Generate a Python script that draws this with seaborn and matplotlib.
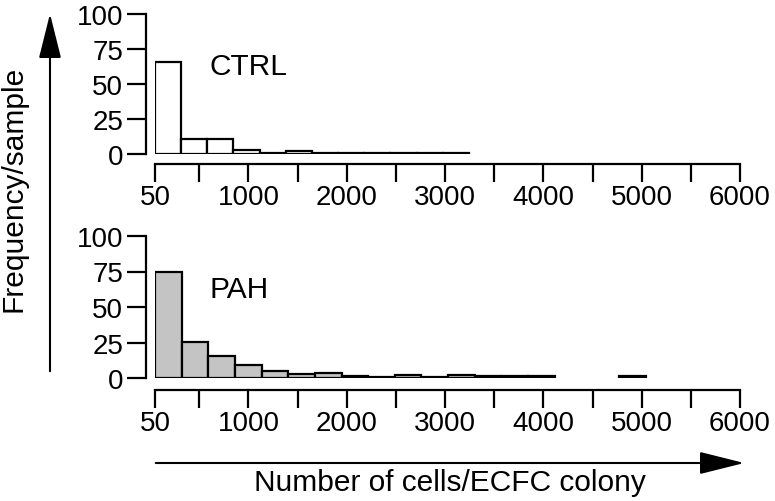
import numpy as np
import pandas as pd
import matplotlib
matplotlib.use('Agg')
import matplotlib.pyplot as plt
import seaborn as sns

## data (frequency per sample in each colony-size bin)
ctrl_bin_width = 266
ctrl_freq = [66, 10.5, 11, 3, 1, 2.5, 0.6, 0.6, 0.6, 0.6, 0.6, 0.6]

pah_bin_width = 271
pah_freq = [74.5, 25.5, 15.5, 9.5, 5, 3, 3.3, 1.2, 0.6, 1.8, 0.6, 1.8, 1.6, 1.6, 1.6]
pah_outlier_edges = [4770, 5045]
pah_outlier_freq = [1.6]

x_ticks = [50, 500, 1000, 1500, 2000, 2500, 3000, 3500, 4000, 4500, 5000, 5500, 6000]
x_ticklabels = ['50', '', '1000', '', '2000', '', '3000', '', '4000', '', '5000', '', '6000']
y_ticks = [0, 25, 50, 75, 100]

sns.set_style('ticks')
plt.rcParams['font.family'] = ['Liberation Sans', 'DejaVu Sans']
plt.rcParams['text.color'] = 'black'

fig = plt.figure(figsize=(7.75, 5.02), dpi=100)
ax_top = fig.add_axes([155 / 775, 1 - 155 / 502, 585 / 775, 140 / 502])
ax_bot = fig.add_axes([155 / 775, 1 - 379 / 502, 585 / 775, 142 / 502])


def draw_hist(ax, edges, freq, color):
    edges = list(edges)
    df = pd.DataFrame({'size': [(a + b) / 2 for a, b in zip(edges[:-1], edges[1:])],
                       'freq': freq})
    sns.histplot(data=df, x='size', weights='freq', bins=edges, ax=ax,
                 color=color, edgecolor='black', linewidth=1.6, alpha=1)


draw_hist(ax_top, 50 + ctrl_bin_width * np.arange(len(ctrl_freq) + 1), ctrl_freq, 'white')
draw_hist(ax_bot, 50 + pah_bin_width * np.arange(len(pah_freq) + 1), pah_freq, '#c4c4c4')
draw_hist(ax_bot, pah_outlier_edges, pah_outlier_freq, '#c4c4c4')

for ax, label, off in [(ax_top, 'CTRL', 7), (ax_bot, 'PAH', 8.5)]:
    ax.set_xlim(50, 6000)
    ax.set_ylim(0, 100)
    ax.set_xticks(x_ticks)
    ax.set_xticklabels(x_ticklabels)
    ax.set_yticks(y_ticks)
    ax.set_xlabel('')
    ax.set_ylabel('')
    sns.despine(ax=ax, offset={'left': 6.5, 'bottom': off})
    ax.spines['left'].set_bounds(0, 100)
    ax.spines['bottom'].set_bounds(50, 6000)
    for s in ['left', 'bottom']:
        ax.spines[s].set_linewidth(1.6)
        ax.spines[s].set_color('black')
    ax.tick_params(axis='y', length=14, width=1.6, pad=2.5, labelsize=20, colors='black')
    ax.tick_params(axis='x', length=13, width=1.6, pad=1.5, labelsize=20, colors='black')
    ax.patch.set_alpha(0)
    ax.text(600, 57, label, fontsize=21.5, ha='left', va='baseline')

## axis arrows and titles
fig.add_artist(matplotlib.patches.FancyArrowPatch(
    (50, 502 - 375), (50, 502 - 12), transform=None,
    arrowstyle='-|>,head_length=1.4,head_width=0.35', mutation_scale=20,
    lw=1.5, color='black'))
fig.add_artist(matplotlib.patches.FancyArrowPatch(
    (153, 502 - 464), (747, 502 - 464), transform=None,
    arrowstyle='-|>,head_length=1.4,head_width=0.35', mutation_scale=20,
    lw=1.5, color='black'))
fig.text(14 / 775, 1 - 189 / 502, 'Frequency/sample', rotation=90,
         fontsize=21.5, ha='center', va='center')
fig.text(450 / 775, 1 - 491 / 502, 'Number of cells/ECFC colony',
         fontsize=21.5, ha='center', va='baseline')

fig.savefig('out.png', dpi=100)
